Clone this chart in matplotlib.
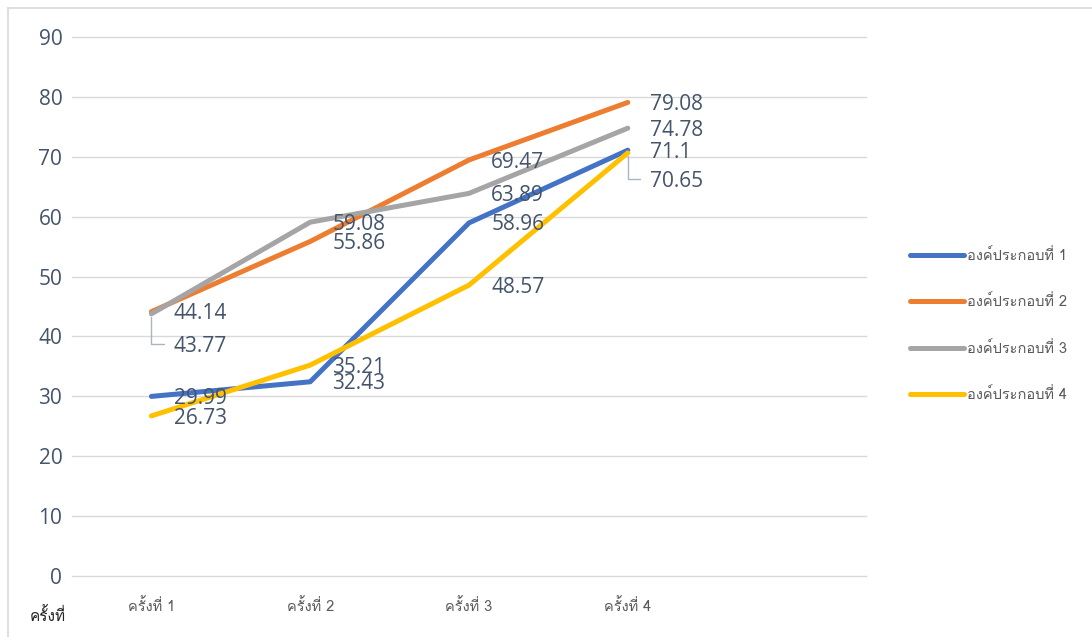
import matplotlib
matplotlib.use('Agg')
import matplotlib.pyplot as plt
from matplotlib.lines import Line2D

# data
rounds = ['ครั้งที่ 1', 'ครั้งที่ 2', 'ครั้งที่ 3', 'ครั้งที่ 4']
names = ['องค์ประกอบที่ 1', 'องค์ประกอบที่ 2', 'องค์ประกอบที่ 3', 'องค์ประกอบที่ 4']
comp1 = [29.99, 32.43, 58.96, 71.1]
comp2 = [44.14, 55.86, 69.47, 79.08]
comp3 = [43.77, 59.08, 63.89, 74.78]
comp4 = [26.73, 35.21, 48.57, 70.65]

colors = ['#4472C4', '#ED7D31', '#A5A5A5', '#FFC000']
txt = '#44546A'
thai = ['Loma', 'Sarabun', 'DejaVu Sans']
num = ['Open Sans', 'DejaVu Sans']

fig = plt.figure(figsize=(10.92, 6.37), dpi=100)
ax = fig.add_axes([72/1092, 1-576/637, (866-72)/1092, (576-37)/637])

x = list(range(len(rounds)))
for vals, c, nm in zip([comp1, comp2, comp3, comp4], colors, names):
    ax.plot(x, vals, color=c, lw=3.6, label=nm, solid_capstyle='round', solid_joinstyle='round')

# data labels (two are pushed down with a leader line)
shift = {(2, 0): -22, (3, 3): -19}
for si, vals in enumerate([comp1, comp2, comp3, comp4]):
    for i, v in enumerate(vals):
        dy = shift.get((si, i), 0)
        ax.annotate(f'{v:g}', (i, v), xytext=(16, dy - 1.5), textcoords='offset points',
                    ha='left', va='center', fontsize=15, color=txt, family=num)
        if dy:
            ax.annotate('', (i, v), xytext=(9, dy), textcoords='offset points',
                        arrowprops=dict(arrowstyle='-', color='#A9B4C0', lw=1,
                                        connectionstyle='angle,angleA=0,angleB=90,rad=0',
                                        shrinkA=0, shrinkB=2))

ax.set_xlim(-0.5, 4.5)
ax.set_ylim(0, 90)
ax.set_yticks(range(0, 91, 10))
ax.set_xticks(x)
ax.set_xticklabels(rounds, family=thai, fontsize=10.5, color='#595959')
for t in ax.get_yticklabels():
    t.set_family(num)
ax.tick_params(axis='y', labelsize=15, labelcolor=txt, length=0, pad=7)
ax.tick_params(axis='x', length=0, pad=16)
ax.grid(axis='y', color='#D9D9D9', lw=1)
for gl in ax.get_ygridlines():
    gl.set_clip_on(False)
ax.set_axisbelow(True)
for s in ax.spines.values():
    s.set_visible(False)

leg = ax.legend(loc='center left', bbox_to_anchor=(903/1092, 1-325/637), bbox_transform=fig.transFigure,
                frameon=False, prop={'family': thai, 'size': 10.5}, handlelength=3.7,
                handletextpad=0.2, labelspacing=2.15, borderpad=0)
for t in leg.get_texts():
    t.set_color('#595959')

fig.text(30/1092, 1-616/637, 'ครั้งที่', family=thai, fontsize=11, color='#222222', va='center')

# chart border
fig.add_artist(Line2D([8/1092, 1], [1-8/637, 1-8/637], color='#D9D9D9', lw=1.2, transform=fig.transFigure))
fig.add_artist(Line2D([8/1092, 8/1092], [0, 1-8/637], color='#D9D9D9', lw=1.2, transform=fig.transFigure))

fig.savefig('out.png', dpi=100)
